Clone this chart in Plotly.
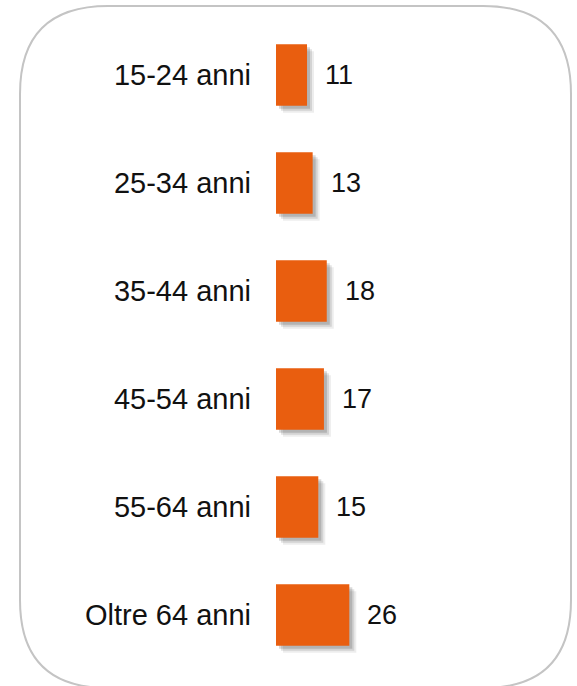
import plotly.graph_objects as go

categories = ["15-24 anni", "25-34 anni", "35-44 anni", "45-54 anni", "55-64 anni", "Oltre 64 anni"]
values = [11, 13, 18, 17, 15, 26]

BAR_COLOR = "#E95E0F"
FONT = "Arial, Liberation Sans, sans-serif"

W, H = 577, 686
ML, MR, MT, MB = 276, 19, 21, 17
PW, PH = W - ML - MR, H - MT - MB
XMAX = 100.0
BAR_W = 0.57

fig = go.Figure()

# soft drop shadow layers
for dx_px, dy_px, alpha in [(7, 7, 0.07), (5, 5, 0.11), (3, 3, 0.15)]:
    dx = dx_px * XMAX / PW
    dy = dy_px * 6 / PH
    fig.add_trace(go.Bar(
        y=categories, x=values, orientation="h",
        base=dx, width=BAR_W, offset=-BAR_W / 2 + dy,
        marker=dict(color=f"rgba(0,0,0,{alpha})", line=dict(width=0)),
        hoverinfo="skip", showlegend=False,
    ))

fig.add_trace(go.Bar(
    y=categories, x=values, orientation="h",
    width=BAR_W, offset=-BAR_W / 2,
    marker=dict(color=BAR_COLOR, line=dict(width=0)),
    showlegend=False,
))

for c, v in zip(categories, values):
    fig.add_annotation(x=v, y=c, text=str(v), showarrow=False,
                       xanchor="left", yanchor="middle", xshift=16,
                       font=dict(family=FONT, size=27, color="#111111"))

# rounded border (pixel -> paper)
def px(xp):
    return (xp - ML) / PW

def py(yp):
    return (H - MB - yp) / PH

x0, x1, y0, y1, r = 20, 571, 6, 688, 88
path = (
    f"M {px(x0 + r)},{py(y0)} L {px(x1 - r)},{py(y0)} "
    f"Q {px(x1)},{py(y0)} {px(x1)},{py(y0 + r)} "
    f"L {px(x1)},{py(y1 - r)} "
    f"Q {px(x1)},{py(y1)} {px(x1 - r)},{py(y1)} "
    f"L {px(x0 + r)},{py(y1)} "
    f"Q {px(x0)},{py(y1)} {px(x0)},{py(y1 - r)} "
    f"L {px(x0)},{py(y0 + r)} "
    f"Q {px(x0)},{py(y0)} {px(x0 + r)},{py(y0)} Z"
)
fig.add_shape(type="path", path=path, xref="paper", yref="paper",
              line=dict(color="#c4c4c4", width=2), layer="below")

fig.update_layout(
    width=W, height=H,
    margin=dict(l=ML, r=MR, t=MT, b=MB),
    barmode="overlay",
    paper_bgcolor="white", plot_bgcolor="white",
    font=dict(family=FONT),
    xaxis=dict(range=[0, XMAX], visible=False, showgrid=False, zeroline=False),
    yaxis=dict(type="category", autorange="reversed", showgrid=False,
               zeroline=False, showline=False, ticks="",
               tickfont=dict(family=FONT, size=29, color="#111111"),
               ticklabelstandoff=24),
)

fig.write_html("out.html",
               config={"displayModeBar": False},
               post_script="document.body.style.margin='0';document.body.style.overflow='hidden';")
